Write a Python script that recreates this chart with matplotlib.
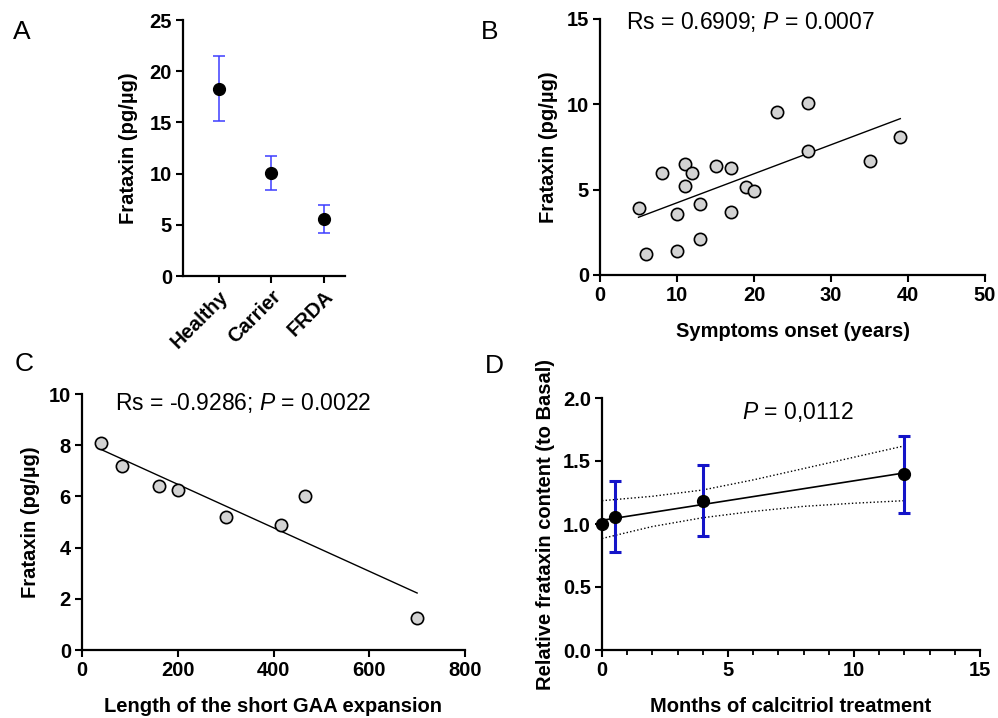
import matplotlib
matplotlib.use("Agg")
import matplotlib.pyplot as plt
import numpy as np
from matplotlib.ticker import MultipleLocator

plt.rcParams['font.family'] = ['Liberation Sans', 'DejaVu Sans']
plt.rcParams['mathtext.fontset'] = 'custom'
plt.rcParams['mathtext.rm'] = 'Liberation Sans'
plt.rcParams['mathtext.it'] = 'Liberation Sans:italic'
plt.rcParams['mathtext.bf'] = 'Liberation Sans:bold'

# panel A: group means with error range
groups = ["Healthy", "Carrier", "FRDA"]
group_mean = [18.3, 10.1, 5.6]
group_low = [15.1, 8.4, 4.2]
group_high = [21.5, 11.7, 6.9]

# panel B: symptoms onset vs frataxin
onset = [5, 6, 8, 10, 10, 11, 11, 12, 13, 13, 15, 17, 17, 19, 20, 23, 27, 27, 35, 39]
frat_onset = [3.9, 1.25, 6.0, 3.55, 1.4, 6.5, 5.2, 6.0, 4.15, 2.1,
              6.4, 6.25, 3.7, 5.15, 4.9, 9.55, 10.05, 7.25, 6.7, 8.1]

# panel C: GAA expansion length vs frataxin
gaa = [40, 83, 160, 200, 300, 415, 465, 700]
frat_gaa = [8.1, 7.2, 6.4, 6.25, 5.2, 4.9, 6.0, 1.25]

# panel D: calcitriol treatment
months = [0, 0.5, 4, 12]
rel_frat = [1.0, 1.055, 1.185, 1.395]
rel_low = [1.0, 0.775, 0.905, 1.085]
rel_high = [1.0, 1.34, 1.47, 1.70]
band_x = [0, 2, 4, 6, 8, 10, 12]
band_upper = [1.185, 1.22, 1.27, 1.35, 1.44, 1.53, 1.62]
band_lower = [0.885, 0.98, 1.05, 1.10, 1.14, 1.165, 1.185]

TICK_FS = 14.5
LABEL_FS = 14.5
NOTE_FS = 16.5

fig = plt.figure(figsize=(9.98, 7.18), dpi=100)
W, H = 998, 718


def add_ax(left, top, right, bottom):
    return fig.add_axes([left / W, 1 - bottom / H, (right - left) / W, (bottom - top) / H])


def style(ax):
    for s in ['top', 'right']:
        ax.spines[s].set_visible(False)
    for s in ['left', 'bottom']:
        ax.spines[s].set_linewidth(1.6)
    ax.tick_params(direction='out', length=5, width=1.5, labelsize=TICK_FS, pad=3)
    ax.tick_params(which='minor', direction='out', length=3.5, width=1.3)
    for lbl in ax.get_xticklabels() + ax.get_yticklabels():
        lbl.set_fontweight('bold')


# ---- A ----
axA = add_ax(183, 20, 345, 276)
xa = np.arange(len(groups))
yerr = [np.array(group_mean) - np.array(group_low), np.array(group_high) - np.array(group_mean)]
axA.errorbar(xa, group_mean, yerr=yerr, fmt='o', color='black', ms=8.5,
             ecolor='#3d3dff', elinewidth=1.1, capsize=4, capthick=1.1, zorder=3)
axA.set_xlim(-0.68, 2.4)
axA.set_ylim(0, 25)
axA.set_yticks([0, 5, 10, 15, 20, 25])
axA.set_xticks(xa)
axA.set_xticklabels(groups, rotation=45, ha='right', rotation_mode='anchor')
axA.set_ylabel("Frataxin (pg/µg)", fontsize=LABEL_FS, fontweight='bold', labelpad=8)
style(axA)

# ---- B ----
axB = add_ax(600, 19, 985, 275)
axB.scatter(onset, frat_onset, s=78, facecolor='#d3d3d3', edgecolor='black', linewidth=1.2, zorder=3)
kb = np.polyfit(onset, frat_onset, 1)
xb = np.array([min(onset), max(onset)])
axB.plot(xb, np.polyval(kb, xb), color='black', lw=1)
axB.set_xlim(0, 50)
axB.set_ylim(0, 15)
axB.set_xticks([0, 10, 20, 30, 40, 50])
axB.set_yticks([0, 5, 10, 15])
axB.set_xlabel("Symptoms onset (years)", fontsize=LABEL_FS, fontweight='bold', labelpad=12)
axB.set_ylabel("Frataxin (pg/µg)", fontsize=LABEL_FS, fontweight='bold', labelpad=6)
axB.text(3.4, 14.8, r"Rs = 0.6909; $\it{P}$ = 0.0007", fontsize=NOTE_FS, ha='left', va='center')
style(axB)

# ---- C ----
axC = add_ax(82, 394, 465, 650)
axC.scatter(gaa, frat_gaa, s=78, facecolor='#d3d3d3', edgecolor='black', linewidth=1.2, zorder=3)
kc = np.polyfit(gaa, frat_gaa, 1)
xc = np.array([min(gaa), max(gaa)])
axC.plot(xc, np.polyval(kc, xc), color='black', lw=1)
axC.set_xlim(0, 800)
axC.set_ylim(0, 10)
axC.set_xticks([0, 200, 400, 600, 800])
axC.set_yticks([0, 2, 4, 6, 8, 10])
axC.set_xlabel("Length of the short GAA expansion", fontsize=LABEL_FS, fontweight='bold', labelpad=12)
axC.set_ylabel("Frataxin (pg/µg)", fontsize=LABEL_FS, fontweight='bold', labelpad=6)
axC.text(69, 9.65, r"Rs = -0.9286; $\it{P}$ = 0.0022", fontsize=NOTE_FS, ha='left', va='center')
style(axC)

# ---- D ----
axD = add_ax(602, 398, 980, 650)
kd = np.polyfit(months, rel_frat, 1)
xd = np.array([min(months), max(months)])
axD.plot(xd, np.polyval(kd, xd), color='black', lw=1.2, zorder=2)
axD.plot(band_x, band_upper, color='black', lw=1, ls=(0, (1, 1.6)), zorder=2)
axD.plot(band_x, band_lower, color='black', lw=1, ls=(0, (1, 1.6)), zorder=2)
derr = [np.array(rel_frat) - np.array(rel_low), np.array(rel_high) - np.array(rel_frat)]
eb = axD.errorbar(months, rel_frat, yerr=derr, fmt='o', color='black', ms=8.5,
                  ecolor='#1414c8', elinewidth=2.2, capsize=4, capthick=2.2, zorder=3)
eb.lines[0].set_clip_on(False)
axD.set_xlim(0, 15)
axD.set_ylim(0, 2.0)
axD.set_xticks([0, 5, 10, 15])
axD.xaxis.set_minor_locator(MultipleLocator(1))
axD.set_yticks([0, 0.5, 1.0, 1.5, 2.0])
axD.set_yticklabels(["0.0", "0.5", "1.0", "1.5", "2.0"])
axD.set_xlabel("Months of calcitriol treatment", fontsize=LABEL_FS, fontweight='bold', labelpad=12)
axD.set_ylabel("Relative frataxin content (to Basal)", fontsize=LABEL_FS, fontweight='bold', labelpad=6)
axD.text(5.56, 1.89, r"$\it{P}$ = 0,0112", fontsize=NOTE_FS, ha='left', va='center')
style(axD)

# panel letters
for letter, px, py in [("A", 22, 32), ("B", 490, 32), ("C", 24, 364), ("D", 494, 366)]:
    fig.text(px / W, 1 - py / H, letter, fontsize=19, ha='center', va='center')

fig.savefig("out.png", dpi=100)
